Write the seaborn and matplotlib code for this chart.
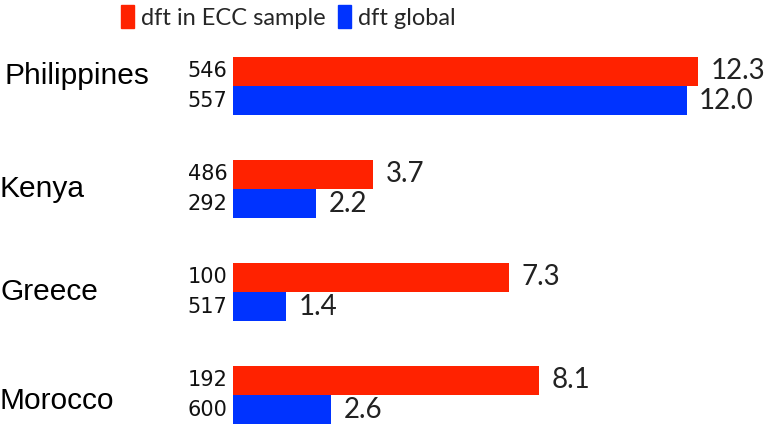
import matplotlib
matplotlib.use("Agg")
import matplotlib.pyplot as plt
import matplotlib.transforms as mtransforms
import seaborn as sns
import pandas as pd

countries = ["Philippines", "Kenya", "Greece", "Morocco"]
series = ["dft in ECC sample", "dft global"]
dft_ecc = [12.3, 3.7, 7.3, 8.1]
dft_global = [12.0, 2.2, 1.4, 2.6]
n_ecc = [546, 486, 100, 192]
n_global = [557, 292, 517, 600]

colors = ["#FF2200", "#0033FF"]

rows = []
for i, c in enumerate(countries):
    rows.append({"country": c, "series": series[0], "value": dft_ecc[i]})
    rows.append({"country": c, "series": series[1], "value": dft_global[i]})
df = pd.DataFrame(rows)

sns.set_style("white")
plt.rcParams["font.family"] = ["DejaVu Sans"]

legfont = "Lato"
valfont = "Lato"

W, H = 767, 429
fig = plt.figure(figsize=(W / 100, H / 100), dpi=100)
ax = fig.add_axes([233 / W, 0, (W - 233) / W, 1])

sns.barplot(data=df, y="country", x="value", hue="series", order=countries,
            hue_order=series, palette=colors, orient="h", width=0.57,
            saturation=1, linewidth=0, ax=ax, legend=False)

ax.set_xlim(0, (W - 233) / 37.8)
ax.set_ylim(3 + 34 / 103, -86 / 103)
ax.axis("off")

for cont in ax.containers:
    labels = [f"{b.get_width():.1f}" for b in cont]
    ax.bar_label(cont, labels=labels, padding=9, fontsize=20,
                 family=valfont, color="#222222")

# sample counts left of bars
for cont, counts in zip(ax.containers, [n_ecc, n_global]):
    for b, n in zip(cont, counts):
        ax.annotate(str(n), xy=(0, b.get_y() + b.get_height() / 2),
                    xytext=(-4, 0), textcoords="offset points",
                    ha="right", va="center", fontsize=15, color="#111111")

# country labels
label_dx = [5, 0, 0, 0]
label_dy = [-10, 0, 0, 6]
trans = mtransforms.blended_transform_factory(fig.transFigure, ax.transData)
for i, c in enumerate(countries):
    ax.annotate(c, xy=(0, i), xycoords=trans,
                xytext=(label_dx[i] * 0.72, -label_dy[i] * 0.72),
                textcoords="offset points", ha="left", va="center",
                fontsize=21.5, family="Liberation Sans", color="black")

handles = [plt.Rectangle((0, 0), 1, 1, color=col) for col in colors]
leg = fig.legend(handles, series, loc="upper left",
                 bbox_to_anchor=(119 / W, 1.0 - 3 / H),
                 ncol=2, frameon=False, prop={"family": legfont, "size": 17},
                 handlelength=0.55, handleheight=1.1, handletextpad=0.3,
                 columnspacing=0.5, borderaxespad=0.0, borderpad=0.1)

fig.savefig("out.png", dpi=100)
